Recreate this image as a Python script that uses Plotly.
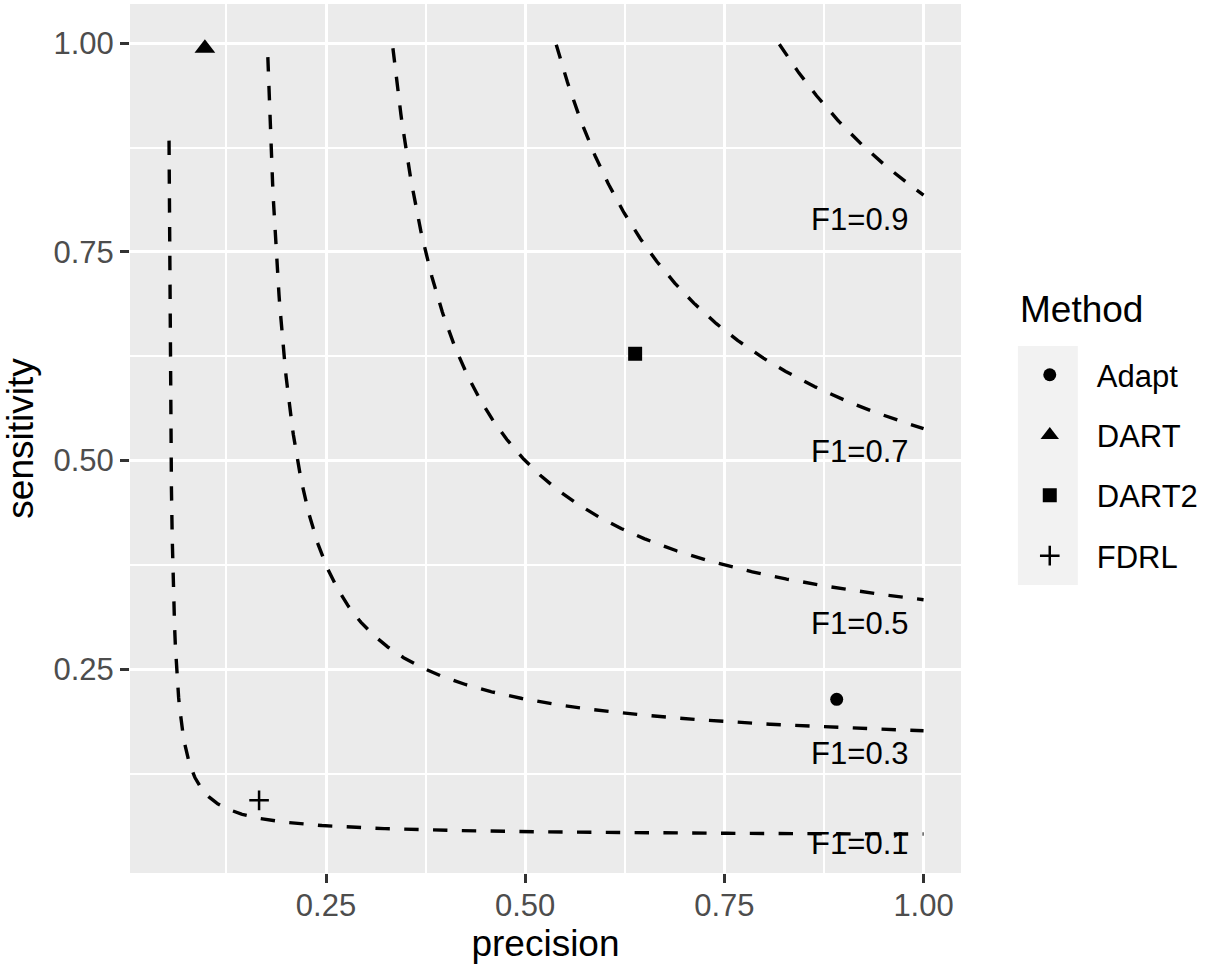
import numpy as np
import plotly.graph_objects as go

# ---- data ----
methods = ["Adapt", "DART", "DART2", "FDRL"]
precision = [0.891, 0.098, 0.638, 0.166]
sensitivity = [0.214, 0.994, 0.628, 0.093]
symbols = ["circle", "triangle-up", "square", "cross-thin-open"]
marker_sizes = [13, 18, 14, 14]

f1_levels = [0.1, 0.3, 0.5, 0.7, 0.9]
f1_labels = ["F1=0.1", "F1=0.3", "F1=0.5", "F1=0.7", "F1=0.9"]
label_x = [0.92, 0.92, 0.92, 0.92, 0.92]
label_y = [0.038, 0.146, 0.301, 0.508, 0.786]

x_ticks = [0.25, 0.50, 0.75, 1.00]
x_ticktext = ["0.25", "0.50", "0.75", "1.00"]
y_ticks = [0.25, 0.50, 0.75, 1.00]
y_ticktext = ["0.25", "0.50", "0.75", "1.00"]

# precision grid used for iso-F1 contours (F1 = 2PR/(P+R))
p_grid = np.round(np.arange(1, 1001) / 1000, 3)

FONT = "Liberation Sans"
fig = go.Figure()

for f in f1_levels:
    denom = 2 * p_grid - f
    with np.errstate(divide="ignore", invalid="ignore"):
        r = f * p_grid / denom
    mask = (denom > 0) & (r <= 1)
    fig.add_trace(go.Scatter(
        x=p_grid[mask], y=r[mask], mode="lines",
        line=dict(color="black", width=3.4, dash="14.4px,14.4px"),
        showlegend=False, hoverinfo="skip"))

fig.add_trace(go.Scatter(
    x=label_x, y=label_y, mode="text", text=f1_labels,
    textfont=dict(family=FONT, size=31, color="black"),
    textposition="middle center", showlegend=False, hoverinfo="skip"))

for m, px, sy, sym, ms in zip(methods, precision, sensitivity, symbols, marker_sizes):
    mk = dict(symbol=sym, size=ms, color="black")
    if sym == "cross-thin-open":
        mk["line"] = dict(color="black", width=2.5)
    fig.add_trace(go.Scatter(
        x=[px], y=[sy], mode="markers", name=m, legendgroup=m,
        marker=mk))

axis_common = dict(
    showgrid=True, gridcolor="white", gridwidth=3.4,
    zeroline=False, showline=False,
    ticks="outside", ticklen=9, tickwidth=3, tickcolor="#333333",
    tickfont=dict(family=FONT, size=31, color="#4D4D4D"),
    minor=dict(dtick=0.25, tick0=0.125, showgrid=True, gridcolor="white", gridwidth=1.8, ticks=""),
)

fig.update_layout(
    width=1207, height=967,
    margin=dict(l=130, r=245, t=4, b=94),
    paper_bgcolor="white", plot_bgcolor="#EBEBEB",
    font=dict(family=FONT),
    xaxis=dict(range=[0.004, 1.047], tickvals=x_ticks, ticktext=x_ticktext,
               ticklabelstandoff=-4,
               title=dict(text="precision", font=dict(family=FONT, size=37, color="black"), standoff=6),
               **axis_common),
    yaxis=dict(range=[0.006, 1.047], tickvals=y_ticks, ticktext=y_ticktext,
               title=dict(text="sensitivity", font=dict(family=FONT, size=37, color="black"), standoff=10),
               **axis_common),
    legend=dict(
        font=dict(family=FONT, size=31, color="black"),
        x=1.049, y=0.604, xanchor="left", yanchor="top",
        bgcolor="rgba(0,0,0,0)", tracegroupgap=17, itemwidth=84,
    ),
    annotations=[dict(text="Method", xref="paper", yref="paper",
                      x=1.0685, y=0.648, xanchor="left", yanchor="middle",
                      showarrow=False, font=dict(family=FONT, size=37, color="black"))],
    shapes=[dict(type="rect", xref="paper", yref="paper",
                 x0=1.0685, x1=1.1406, y0=0.3314, y1=0.6064,
                 fillcolor="#F2F2F2", line=dict(width=0), layer="below")],
)

fig.write_html("out.html", config={"displayModeBar": False},
               post_script="document.body.style.margin='0';")
